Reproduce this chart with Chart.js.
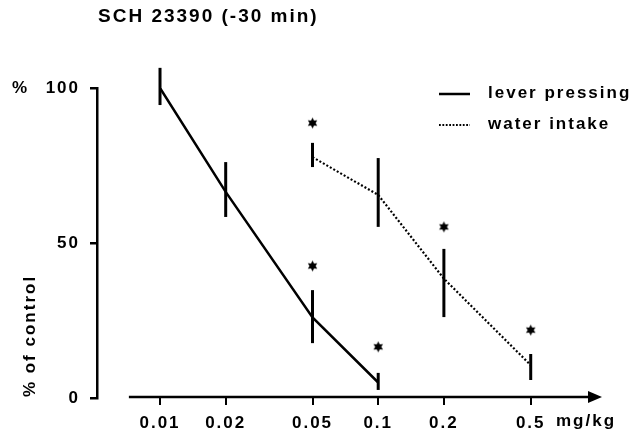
<!DOCTYPE html>
<html>
<head>
<meta charset="utf-8">
<script src="https://cdn.jsdelivr.net/npm/chart.js@4.4.1/dist/chart.umd.min.js"></script>
<style>
html, body { margin: 0; padding: 0; background: #fff; }
#wrap { width: 632px; height: 435px; }
</style>
</head>
<body>
<div id="wrap"><canvas id="grafico"></canvas></div>
<script>
// doses (mg/kg) shown on the x axis
const doses = [0.01, 0.02, 0.05, 0.1, 0.2, 0.5];
const yTicks = [0, 50, 100];

// lever pressing, % of control
const leverDoses = [0.01, 0.02, 0.05, 0.1];
const leverValues = [100, 66.5, 26, 5];
const leverLow = [94.5, 58.4, 17.7, 2.6];
const leverHigh = [106.5, 76.1, 34.8, 8.1];

// water intake, % of control
const waterDoses = [0.05, 0.1, 0.2, 0.5];
const waterValues = [77.7, 65.5, 38.5, 10.6];
const waterLow = [74.5, 55.2, 26.1, 5.8];
const waterHigh = [82.3, 77.4, 48.1, 14.2];

// significance stars
const starDoses = [0.05, 0.1, 0.05, 0.2, 0.5];
const starValues = [42.6, 16.5, 88.7, 55.2, 21.9];

const FONTE = 'bold 17px "Liberation Sans", Arial, sans-serif';
const FONTE_TITULO = 'bold 19px "Liberation Sans", Arial, sans-serif';

Chart.defaults.font.family = '"Liberation Sans", Arial, sans-serif';
Chart.defaults.font.size = 17;
Chart.defaults.font.weight = 'bold';
Chart.defaults.color = '#000';

function estrela(r) {
    const c = document.createElement('canvas');
    c.width = c.height = Math.ceil(r * 2 + 2);
    const g = c.getContext('2d');
    const m = c.width / 2;
    g.fillStyle = '#000';
    g.beginPath();
    for (let i = 0; i < 12; i++) {
        const a = -Math.PI / 2 + i * Math.PI / 6;
        const rr = i % 2 ? r * 0.55 : r;
        g.lineTo(m + rr * Math.cos(a), m + rr * Math.sin(a));
    }
    g.closePath();
    g.fill();
    return c;
}

const espacamento = {
    id: 'espacamento',
    beforeDraw(chart) {
        chart.ctx.letterSpacing = '2px';
    }
};

const barrasErro = {
    id: 'barrasErro',
    afterDatasetsDraw(chart) {
        const { ctx, scales: { x, y } } = chart;
        ctx.save();
        ctx.strokeStyle = '#000';
        ctx.lineWidth = 3;
        const desenhar = (ds, lo, hi) => ds.forEach((d, i) => {
            const px = x.getPixelForValue(d);
            ctx.beginPath();
            ctx.moveTo(px, y.getPixelForValue(lo[i]));
            ctx.lineTo(px, y.getPixelForValue(hi[i]));
            ctx.stroke();
        });
        desenhar(leverDoses, leverLow, leverHigh);
        desenhar(waterDoses, waterLow, waterHigh);
        ctx.restore();
    }
};

const extras = {
    id: 'extras',
    afterDraw(chart) {
        const { ctx, chartArea, scales: { x, y } } = chart;
        ctx.save();
        ctx.fillStyle = '#000';
        ctx.strokeStyle = '#000';

        // x axis with arrow
        const y0 = y.getPixelForValue(0) - 1;
        const xIni = x.getPixelForValue(0.0072);
        const xFim = chartArea.right;
        ctx.lineWidth = 2.5;
        ctx.beginPath();
        ctx.moveTo(xIni, y0);
        ctx.lineTo(xFim - 12, y0);
        ctx.stroke();
        ctx.beginPath();
        ctx.moveTo(xFim - 14, y0 - 6);
        ctx.lineTo(xFim, y0);
        ctx.lineTo(xFim - 14, y0 + 6);
        ctx.closePath();
        ctx.fill();

        ctx.textBaseline = 'middle';
        ctx.textAlign = 'left';
        ctx.font = FONTE_TITULO;
        ctx.fillText('SCH 23390 (-30 min)', 98, 17);
        ctx.font = FONTE;
        ctx.fillText('mg/kg', 556, 421);
        ctx.fillText('%', 12, y.getPixelForValue(100));

        // legend
        const itens = chart.data.datasets.filter(d => d.legenda);
        itens.forEach((d, i) => {
            const ly = 93 + i * 31;
            ctx.save();
            ctx.lineWidth = d.legenda === 'solid' ? 2.5 : 1.8;
            ctx.setLineDash(d.legenda === 'solid' ? [] : [1.8, 1.6]);
            ctx.beginPath();
            ctx.moveTo(439, ly + 1);
            ctx.lineTo(470, ly + 1);
            ctx.stroke();
            ctx.restore();
            ctx.fillText(d.label, 488, ly);
        });

        // y axis title
        ctx.translate(30, 336);
        ctx.rotate(-Math.PI / 2);
        ctx.textAlign = 'center';
        ctx.fillText('% of control', 0, 0);
        ctx.restore();
    }
};

new Chart(document.getElementById('grafico').getContext('2d'), {
    type: 'line',
    data: {
        datasets: [{
            label: 'lever pressing',
            legenda: 'solid',
            data: leverDoses.map((d, i) => ({ x: d, y: leverValues[i] })),
            borderColor: '#000',
            borderWidth: 2.5,
            pointRadius: 0,
            tension: 0
        }, {
            label: 'water intake',
            legenda: 'dotted',
            data: waterDoses.map((d, i) => ({ x: d, y: waterValues[i] })),
            borderColor: '#000',
            borderWidth: 2.2,
            borderDash: [2, 2],
            pointRadius: 0,
            tension: 0
        }, {
            label: 'stars',
            type: 'scatter',
            data: starDoses.map((d, i) => ({ x: d, y: starValues[i] })),
            pointStyle: estrela(5.5),
            pointRadius: 6,
            borderWidth: 0
        }]
    },
    options: {
        responsive: true,
        maintainAspectRatio: false,
        animation: false,
        layout: {
            padding: { top: 88, right: 30, left: 0, bottom: 0 }
        },
        plugins: {
            legend: { display: false },
            tooltip: { enabled: false }
        },
        scales: {
            x: {
                type: 'logarithmic',
                min: 0.005143,
                max: 1.0609,
                afterBuildTicks: s => { s.ticks = doses.map(v => ({ value: v })); },
                afterFit: s => { s.height = 37; },
                grid: {
                    drawOnChartArea: false,
                    drawTicks: true,
                    tickLength: 7,
                    color: '#000',
                    lineWidth: 2
                },
                border: { display: false },
                ticks: {
                    autoSkip: false,
                    maxRotation: 0,
                    padding: 8,
                    callback: v => String(v)
                }
            },
            y: {
                min: 0,
                max: 100,
                afterBuildTicks: s => { s.ticks = yTicks.map(v => ({ value: v })); },
                afterFit: s => { s.width = 97; },
                grid: {
                    drawOnChartArea: false,
                    drawTicks: true,
                    tickLength: 7,
                    color: '#000',
                    lineWidth: 2.5
                },
                border: { display: true, color: '#000', width: 2.5 },
                ticks: { padding: 10 }
            }
        }
    },
    plugins: [espacamento, barrasErro, extras]
});
</script>
</body>
</html>
